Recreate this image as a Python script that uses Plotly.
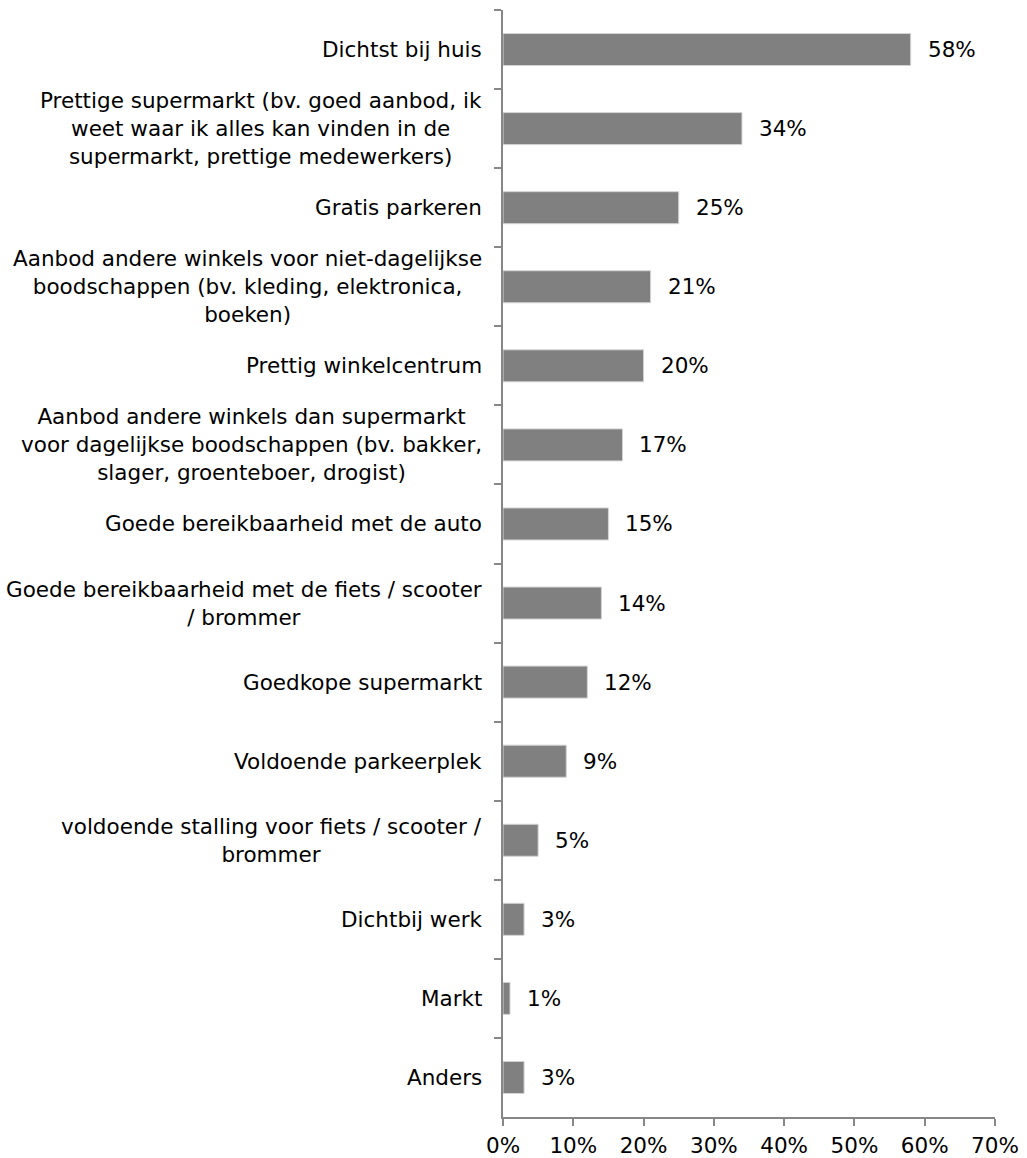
import plotly.graph_objects as go

# Redenen voor de keuze van de supermarkt (percentage respondenten)
categories = [
    "Dichtst bij huis",
    "Prettige supermarkt (bv. goed aanbod, ik<br>weet waar ik alles kan vinden in de<br>supermarkt, prettige medewerkers)",
    "Gratis parkeren",
    "Aanbod andere winkels voor niet-dagelijkse<br>boodschappen (bv. kleding, elektronica,<br>boeken)",
    "Prettig winkelcentrum",
    "Aanbod andere winkels dan supermarkt<br>voor dagelijkse boodschappen (bv. bakker,<br>slager, groenteboer, drogist)",
    "Goede bereikbaarheid met de auto",
    "Goede bereikbaarheid met de fiets / scooter<br>/ brommer",
    "Goedkope supermarkt",
    "Voldoende parkeerplek",
    "voldoende stalling voor fiets / scooter /<br>brommer",
    "Dichtbij werk",
    "Markt",
    "Anders",
]
values = [0.58, 0.34, 0.25, 0.21, 0.20, 0.17, 0.15, 0.14, 0.12, 0.09, 0.05, 0.03, 0.01, 0.03]
x_ticks = [0.0, 0.1, 0.2, 0.3, 0.4, 0.5, 0.6, 0.7]

FONT = "DejaVu Sans, Verdana, sans-serif"
FS = 21.5
AXIS_COLOR = "#878787"
BAR_COLOR = "#808080"

fig = go.Figure()
fig.add_trace(go.Bar(
    x=values,
    y=categories,
    orientation="h",
    marker=dict(color=BAR_COLOR, line=dict(color="#d4d4d4", width=1)),
    hoverinfo="skip",
))

annotations = []
for cat, val in zip(categories, values):
    # category label, centred lines, right-aligned against the axis
    annotations.append(dict(
        x=0, xref="paper", xanchor="right", xshift=-19,
        y=cat, yref="y", yanchor="middle",
        text=cat, showarrow=False, align="center",
        font=dict(family=FONT, size=FS, color="#000000"),
    ))
    # value label right of the bar
    annotations.append(dict(
        x=val, xref="x", xanchor="left", xshift=15,
        y=cat, yref="y", yanchor="middle",
        text=f"{round(val * 100)}%", showarrow=False,
        font=dict(family=FONT, size=FS, color="#000000"),
    ))

fig.update_layout(
    width=1027,
    height=1158,
    margin=dict(l=503, r=32, t=10, b=41),
    paper_bgcolor="white",
    plot_bgcolor="white",
    bargap=0.595,
    showlegend=False,
    font=dict(family=FONT, size=FS, color="#000000"),
    annotations=annotations,
    xaxis=dict(
        range=[0, 0.7],
        tickvals=x_ticks,
        tickformat=".0%",
        automargin=False,
        showgrid=False,
        zeroline=False,
        showline=True,
        linecolor=AXIS_COLOR,
        linewidth=2,
        ticks="outside",
        ticklen=7,
        tickwidth=2,
        tickcolor=AXIS_COLOR,
        ticklabelstandoff=1,
        tickfont=dict(family=FONT, size=FS, color="#000000"),
        fixedrange=True,
    ),
    yaxis=dict(
        autorange="reversed",
        automargin=False,
        showticklabels=False,
        showgrid=False,
        zeroline=False,
        showline=True,
        linecolor=AXIS_COLOR,
        linewidth=2,
        ticks="outside",
        tickson="boundaries",
        ticklen=7,
        tickwidth=2,
        tickcolor=AXIS_COLOR,
        fixedrange=True,
    ),
)

fig.write_html("out.html")
